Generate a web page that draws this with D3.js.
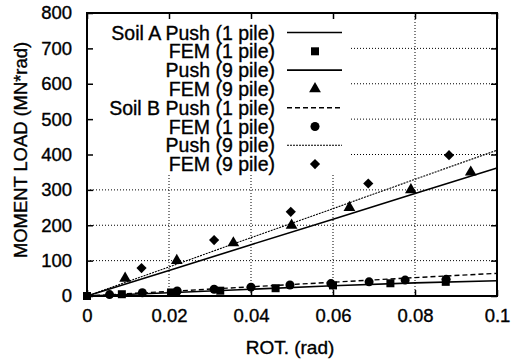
<!DOCTYPE html>
<html>
<head>
<meta charset="utf-8">
<script src="https://cdn.jsdelivr.net/npm/d3@7"></script>
<style>
  body { margin: 0; background: #fff; }
  text { font-family: "Liberation Sans", Arial, Helvetica, sans-serif; fill: #000; stroke: #000; stroke-width: 0.35px; }
</style>
</head>
<body>
<div id="chart"></div>
<script>
// push curves (x = rotation, y = moment)
var pushX = [0, 0.02, 0.04, 0.06, 0.08, 0.1];
var soilAPush1 = [0, 9, 19, 29, 37, 43];
var soilAPush9 = [0, 72, 145, 217, 290, 362];
var soilBPush1 = [0, 13, 26, 39, 52, 64];
var soilBPush9 = [0, 82, 165, 247, 330, 412];

// FEM points
var soilAFem1X = [0, 0.0085, 0.0205, 0.0325, 0.046, 0.060, 0.074, 0.0875];
var soilAFem1Y = [0, 5, 10, 15, 22, 30, 36, 40];
var soilAFem9X = [0.0093, 0.0219, 0.0357, 0.0499, 0.064, 0.079, 0.0936];
var soilAFem9Y = [50, 100, 150, 200, 250, 300, 350];
var soilBFem1X = [0.0055, 0.0135, 0.022, 0.031, 0.040, 0.0495, 0.0595, 0.0688, 0.0776, 0.0876];
var soilBFem1Y = [4, 9, 14, 19, 25, 31, 35, 40, 45, 47];
var soilBFem9X = [0.0133, 0.031, 0.0497, 0.0686, 0.0883];
var soilBFem9Y = [79, 158, 238, 318, 398];

var xTicks = [0, 0.02, 0.04, 0.06, 0.08, 0.1];
var yTicks = [0, 100, 200, 300, 400, 500, 600, 700, 800];
var legendLabels = ['Soil A Push (1 pile)', 'FEM (1 pile)', 'Push (9 pile)', 'FEM (9 pile)',
                    'Soil B Push (1 pile)', 'FEM (1 pile)', 'Push (9 pile)', 'FEM (9 pile)'];

var W = 515, H = 361;
var margin = {top: 13, right: 18, bottom: 65, left: 87};
var w = W - margin.left - margin.right;
var h = H - margin.top - margin.bottom;

var svg = d3.select('#chart').append('svg')
    .attr('width', W).attr('height', H);
var g = svg.append('g')
    .attr('transform', 'translate(' + margin.left + ',' + margin.top + ')');

var x = d3.scaleLinear().domain([0, 0.1]).range([0, w]);
var y = d3.scaleLinear().domain([0, 800]).range([h, 0]);

// grid
g.append('g').selectAll('line.gy')
    .data(yTicks.slice(1, -1)).enter().append('line')
    .attr('x1', 0).attr('x2', w)
    .attr('y1', d => y(d)).attr('y2', d => y(d))
    .attr('stroke', '#000').attr('stroke-width', 1).attr('stroke-dasharray', '1,2');
g.append('g').selectAll('line.gx')
    .data(xTicks.slice(1, -1)).enter().append('line')
    .attr('y1', 0).attr('y2', h)
    .attr('x1', d => x(d)).attr('x2', d => x(d))
    .attr('stroke', '#000').attr('stroke-width', 1).attr('stroke-dasharray', '1,2');

// legend background hides grid
g.append('rect')
    .attr('x', 2).attr('y', 2).attr('width', 262).attr('height', 158)
    .attr('fill', '#fff');

// ticks (inward, mirrored)
var tl = 6;
var axB = d3.axisBottom(x).tickValues(xTicks).tickSize(-tl).tickPadding(13)
    .tickFormat(d => d === 0 ? '0' : d3.format('.2~f')(d));
var gB = g.append('g').attr('transform', 'translate(0,' + h + ')').call(axB);
var axT = d3.axisTop(x).tickValues(xTicks).tickSize(-tl).tickFormat('');
var gT = g.append('g').call(axT);
var axL = d3.axisLeft(y).tickValues(yTicks).tickSize(-tl).tickPadding(15);
var gL = g.append('g').call(axL);
var axR = d3.axisRight(y).tickValues(yTicks).tickSize(-tl).tickFormat('');
var gR = g.append('g').attr('transform', 'translate(' + w + ',0)').call(axR);
[gB, gT, gL, gR].forEach(function (a) {
    a.select('.domain').remove();
    a.selectAll('line').attr('stroke', '#000').attr('stroke-width', 1.5);
    a.selectAll('text').style('font-size', '18.5px')
        .style('font-family', '"Liberation Sans", Arial, sans-serif').attr('fill', '#000');
});

// frame
g.append('rect').attr('width', w).attr('height', h)
    .attr('fill', 'none').attr('stroke', '#000').attr('stroke-width', 2);

// lines
var lineStyles = [
    {data: soilAPush1, dash: null, sw: 1.6},
    {data: soilAPush9, dash: null, sw: 1.6},
    {data: soilBPush1, dash: '5,3', sw: 1.4},
    {data: soilBPush9, dash: '2,1', sw: 1.1}
];
var line = d3.line().x(d => x(d[0])).y(d => y(d[1]));
lineStyles.forEach(function (s) {
    g.append('path')
        .attr('d', line(d3.zip(pushX, s.data)))
        .attr('fill', 'none').attr('stroke', '#000')
        .attr('stroke-width', s.sw)
        .attr('stroke-dasharray', s.dash);
});

// markers
var sym = {
    square: d3.symbol().type(d3.symbolSquare).size(64),
    triangle: d3.symbol().type(d3.symbolTriangle).size(60),
    circle: d3.symbol().type(d3.symbolCircle).size(64),
    diamond: d3.symbol().type(d3.symbolSquare).size(52)
};
function symTransform(s, px, py) {
    return 'translate(' + px + ',' + py + ')' + (s === 'diamond' ? ' rotate(45)' : '');
}
function points(xs, ys, s) {
    g.append('g').selectAll('path')
        .data(d3.zip(xs, ys)).enter().append('path')
        .attr('d', sym[s])
        .attr('transform', d => symTransform(s, x(d[0]), y(d[1])))
        .attr('fill', '#000');
}
points(soilAFem1X, soilAFem1Y, 'square');
points(soilAFem9X, soilAFem9Y, 'triangle');
points(soilBFem1X, soilBFem1Y, 'circle');
points(soilBFem9X, soilBFem9Y, 'diamond');

// legend
var legKinds = [
    {line: 'solid'}, {sym: 'square'}, {line: 'solid'}, {sym: 'triangle'},
    {line: 'dash'}, {sym: 'circle'}, {line: 'dot'}, {sym: 'diamond'}
];
var lg = g.append('g');
var rowY = d => 19.5 + d * 18.8;
legendLabels.forEach(function (lab, i) {
    var yy = rowY(i);
    lg.append('text').attr('x', 188).attr('y', yy).attr('dy', '0.36em')
        .attr('text-anchor', 'end').style('font-size', '19.5px').text(lab);
    var k = legKinds[i];
    if (k.line) {
        lg.append('line').attr('x1', 200).attr('x2', 255).attr('y1', yy).attr('y2', yy)
            .attr('stroke', '#000')
            .attr('stroke-width', k.line === 'dot' ? 1.1 : (k.line === 'dash' ? 1.4 : 1.6))
            .attr('stroke-dasharray', k.line === 'dash' ? '5,3' : (k.line === 'dot' ? '2,1' : null));
    } else {
        lg.append('path').attr('d', sym[k.sym])
            .attr('transform', symTransform(k.sym, 228, yy)).attr('fill', '#000');
    }
});

// axis titles
svg.append('text')
    .attr('transform', 'translate(27,' + 150 + ') rotate(-90)')
    .attr('text-anchor', 'middle').style('font-size', '18px')
    .attr('textLength', 216).attr('lengthAdjust', 'spacingAndGlyphs')
    .text('MOMENT LOAD (MN*rad)');
svg.append('text')
    .attr('x', 290).attr('y', 354)
    .attr('text-anchor', 'middle').style('font-size', '19px')
    .text('ROT. (rad)');
</script>
</body>
</html>
